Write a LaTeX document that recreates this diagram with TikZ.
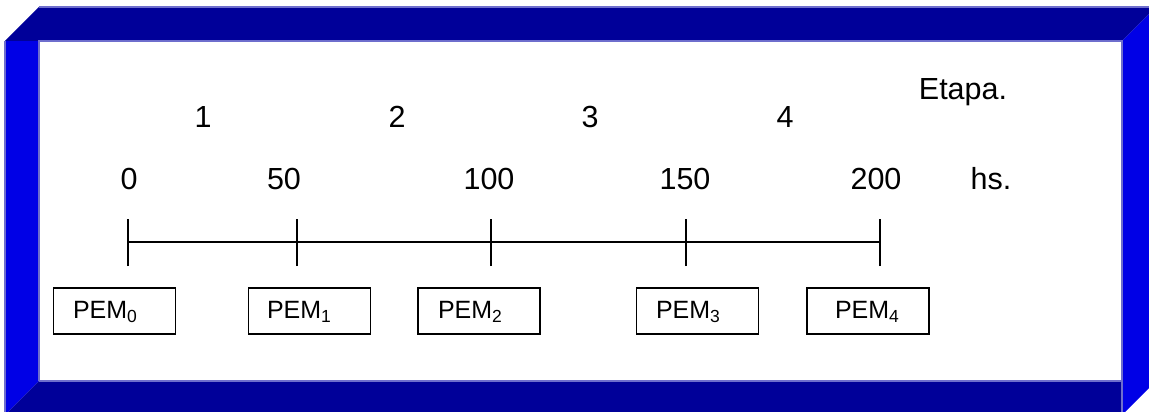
\documentclass[tikz,border=0pt]{standalone}
\usepackage{fontspec}
\setmainfont{Liberation Sans}
\definecolor{navyband}{RGB}{0,0,153}
\definecolor{blueband}{RGB}{0,0,230}
\definecolor{edgeline}{RGB}{110,110,205}
\newcommand\pemsub[1]{\raisebox{-4pt}{\fontsize{17.5}{18}\selectfont #1}}
\begin{document}
\begin{tikzpicture}[x=1pt,y=-1pt,
  lbl/.style={inner sep=0pt,font=\fontsize{30.5}{34}\selectfont},
  pembox/.style={draw=black,line width=1.5pt,minimum width=122pt,minimum height=46pt,inner sep=0pt},
  pemtext/.style={inner sep=0pt,font=\fontsize{25}{29}\selectfont},
  axisline/.style={line width=1.5pt,black}]
\useasboundingbox (0,0) rectangle (1149,412);
% frame
\fill[blueband] (5,41) -- (39,41) -- (39,381) -- (8,412) -- (5,412) -- cycle;
\fill[navyband] (39,7) -- (1149,7) -- (1149,14) -- (1122,41) -- (5,41) -- cycle;
\fill[navyband] (39,381) -- (1122,381) -- (1122,412) -- (8,412) -- cycle;
\fill[blueband] (1122,41) -- (1149,14) -- (1149,388) -- (1125,412) -- (1122,412) -- cycle;
\draw[edgeline,line width=1.2pt] (5,412) -- (5,41);
\draw[edgeline,line width=1.2pt] (39,7) -- (1149,7);
\draw[edgeline,line width=1.2pt] (39,381) -- (39,41) -- (1122,41) -- (1122,412);
\draw[edgeline,line width=1.2pt] (39,381) -- (1122,381);
% stage labels
\node[lbl] (etapa) at (963,92) {Etapa.};
\node[lbl] (s1) at (203,117) {1};
\node[lbl] (s2) at (397,117) {2};
\node[lbl] (s3) at (590,117) {3};
\node[lbl] (s4) at (785,117) {4};
% hour labels
\node[lbl] (h0) at (129,179) {0};
\node[lbl] (h50) at (284,179) {50};
\node[lbl] (h100) at (489,179) {100};
\node[lbl] (h150) at (685,179) {150};
\node[lbl] (h200) at (876,179) {200};
\node[lbl] (hs) at (991,179) {hs.};
% axis
\coordinate (a0) at (128,242);
\coordinate (a1) at (297,242);
\coordinate (a2) at (491,242);
\coordinate (a3) at (686,242);
\coordinate (a4) at (880,242);
\draw[axisline] (a0) -- (a4);
\foreach \c in {a0,a1,a2,a3,a4}
  \draw[axisline] ([yshift=-24pt]\c) -- ([yshift=23pt]\c);
% PEM boxes
\node[pembox] (p0) at (114.5,311) {};
\node[pembox] (p1) at (309.5,311) {};
\node[pembox] (p2) at (479,311) {};
\node[pembox] (p3) at (697.5,311) {};
\node[pembox] (p4) at (868,311) {};
\node[pemtext] (t0) at (105,312) {PEM\pemsub{0}};
\node[pemtext] (t1) at (299,312) {PEM\pemsub{1}};
\node[pemtext] (t2) at (470,312) {PEM\pemsub{2}};
\node[pemtext] (t3) at (688,312) {PEM\pemsub{3}};
\node[pemtext] (t4) at (867,312) {PEM\pemsub{4}};
\end{tikzpicture}
\end{document}
